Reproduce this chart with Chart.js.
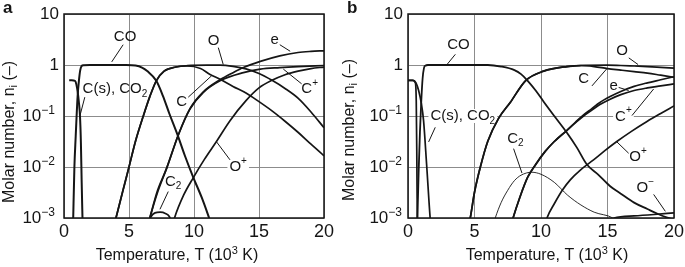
<!DOCTYPE html>
<html><head><meta charset="utf-8">
<script src="https://cdn.jsdelivr.net/npm/chart.js@4/dist/chart.umd.min.js"></script>
<style>
html,body{margin:0;padding:0;background:#fff;}
#wa{position:absolute;left:0;top:0;width:340px;height:267px;}
#wb{position:absolute;left:340px;top:0;width:345px;height:267px;}
</style></head>
<body>
<div id="wa"><canvas id="ca" width="340" height="267"></canvas></div>
<div id="wb"><canvas id="cb" width="345" height="267"></canvas></div>
<script>
// ---------- axes ----------
const xTicks = [0, 5, 10, 15, 20];
const yTicks = [0.001, 0.01, 0.1, 1, 10];
const yTickBase = ['10', '10', '10', '1', '10'];
const yTickExp  = ['\u22123', '\u22122', '\u22121', '', ''];

// ---------- panel a (T in 10^3 K, molar number) ----------
const aCO_T = [0.7, 0.8, 0.9, 0.97, 1.05, 1.15, 1.25, 1.35, 1.5, 2, 3, 4, 4.8, 5.5, 6.0, 6.4, 7.1, 7.6, 8.1, 8.7, 9.3, 9.95, 10.6, 11.3];
const aCO_n = [0.0008, 0.01, 0.04, 0.1, 0.25, 0.5, 0.794, 0.955, 0.99, 1, 1, 1, 1, 0.977, 0.891, 0.759, 0.49, 0.251, 0.112, 0.045, 0.0166, 0.0062, 0.0025, 0.0008];
const aCsCO2_T = [0.4, 0.6, 0.85, 0.95, 1.05, 1.15, 1.23, 1.3, 1.36, 1.43];
const aCsCO2_n = [0.5, 0.5, 0.49, 0.42, 0.3, 0.18, 0.1, 0.03, 0.005, 0.0008];
const aO_T = [3.9, 4.5, 5.0, 5.5, 6.1, 6.6, 7.1, 7.7, 8.6, 9.5, 11, 12, 13, 14, 15, 16, 17, 18, 19, 20];
const aO_n = [0.0008, 0.0032, 0.01, 0.032, 0.1, 0.24, 0.49, 0.759, 0.912, 0.97, 0.99, 0.99, 0.94, 0.84, 0.68, 0.5, 0.347, 0.224, 0.12, 0.059];
const aC_T = [3.9, 4.5, 5.0, 5.5, 6.1, 6.6, 7.1, 7.7, 8.6, 9.5, 10.5, 11.2, 12, 13, 14, 15, 16, 17, 18, 19, 20];
const aC_n = [0.0008, 0.0032, 0.01, 0.032, 0.1, 0.24, 0.49, 0.759, 0.912, 0.955, 0.851, 0.661, 0.525, 0.38, 0.282, 0.191, 0.126, 0.079, 0.048, 0.028, 0.0166];
const aCp_T = [6.5, 6.6, 7.2, 7.9, 8.8, 9.7, 10.7, 12, 13.8, 15.1, 16.6, 18, 20];
const aCp_n = [0.0008, 0.001, 0.0032, 0.0095, 0.043, 0.138, 0.288, 0.49, 0.708, 0.832, 0.891, 0.933, 0.977];
const ae_T = [6.5, 6.6, 7.2, 7.9, 8.8, 9.7, 10.7, 12, 13, 13.8, 15.1, 16.6, 18, 19, 20];
const ae_n = [0.0008, 0.001, 0.0035, 0.0095, 0.043, 0.141, 0.295, 0.513, 0.708, 0.891, 1.175, 1.51, 1.76, 1.85, 1.9];
const aOp_T = [8.4, 8.5, 9.2, 9.95, 10.8, 11.74, 12.77, 14, 15, 16, 17, 18, 19, 20];
const aOp_n = [0.0008, 0.001, 0.0028, 0.0062, 0.0141, 0.032, 0.081, 0.2, 0.355, 0.501, 0.646, 0.759, 0.851, 0.912];
const aC2_T = [6.5, 6.7, 7.0, 7.4, 7.8, 8.1, 8.3];
const aC2_n = [0.0008, 0.00107, 0.00126, 0.0013, 0.00123, 0.00107, 0.0008];

// ---------- panel b ----------
const bCO_T = [0.7, 0.8, 0.9, 1.0, 1.1, 1.2, 1.3, 1.5, 3, 6, 7, 8, 8.5, 9, 9.6, 10.2, 11, 11.95, 12.7, 13.45, 14.3, 15.2, 16, 17, 18, 18.8, 19.5, 20];
const bCO_n = [0.0008, 0.008, 0.05, 0.2, 0.55, 0.87, 0.97, 1, 1, 1, 0.933, 0.794, 0.661, 0.49, 0.316, 0.191, 0.1, 0.047, 0.024, 0.0112, 0.0071, 0.0042, 0.003, 0.002, 0.0015, 0.0012, 0.00102, 0.00093];
const bCs_T = [0, 0.35, 0.55, 0.62, 0.66, 0.7];
const bCs_n = [0.5, 0.5, 0.45, 0.2, 0.02, 0.0008];
const bCO2_T = [0, 0.4, 0.6, 0.8, 1.0, 1.17, 1.4, 1.68, 1.72];
const bCO2_n = [0.5, 0.5, 0.447, 0.316, 0.178, 0.081, 0.0112, 0.00089, 0.0007];
const bO_T = [4.6, 4.68, 5.0, 5.44, 6.0, 6.8, 7.7, 8.83, 10.2, 11.95, 13, 15, 16, 17, 18, 19, 20];
const bO_n = [0.0008, 0.001, 0.0032, 0.01, 0.032, 0.089, 0.186, 0.49, 0.759, 0.933, 0.977, 0.995, 0.977, 0.955, 0.933, 0.902, 0.871];
const bC_T = [4.6, 4.68, 5.0, 5.44, 6.0, 6.8, 7.7, 8.83, 10.2, 11.95, 13, 14, 15, 16, 17, 18, 19, 20];
const bC_n = [0.0008, 0.001, 0.0032, 0.01, 0.032, 0.089, 0.186, 0.49, 0.759, 0.933, 0.977, 0.933, 0.851, 0.794, 0.741, 0.692, 0.631, 0.575];
const be_T = [7.8, 7.9, 8.4, 9.0, 9.6, 10.3, 11.0, 11.95, 12.6, 13.2, 13.8, 14.4, 15.2, 16, 17, 18, 19, 20];
const be_n = [0.0008, 0.001, 0.0025, 0.0063, 0.0112, 0.02, 0.0316, 0.0525, 0.0759, 0.105, 0.138, 0.182, 0.24, 0.302, 0.38, 0.447, 0.513, 0.589];
const bCp_T = [7.8, 7.9, 8.4, 9.0, 9.6, 10.3, 11.0, 11.95, 12.6, 13.2, 13.8, 14.4, 15.2, 16, 17, 18, 19, 20];
const bCp_n = [0.0008, 0.001, 0.0025, 0.0063, 0.0112, 0.02, 0.0316, 0.0525, 0.0741, 0.1, 0.129, 0.166, 0.214, 0.263, 0.316, 0.355, 0.389, 0.427];
const bOp_T = [10.35, 10.45, 11, 11.6, 12.2, 13, 13.95, 14.8, 15.7, 16.8, 18, 19, 20];
const bOp_n = [0.0008, 0.001, 0.0019, 0.0035, 0.0056, 0.0089, 0.0138, 0.0209, 0.0316, 0.05, 0.079, 0.112, 0.158];
const bC2_T = [6.45, 6.56, 7, 7.5, 8, 8.5, 9.3, 10, 11, 12, 13, 14, 15.4, 15.6];
const bC2_n = [0.0008, 0.001, 0.002, 0.0035, 0.0054, 0.0069, 0.0079, 0.0072, 0.005, 0.0028, 0.0018, 0.0013, 0.001, 0.0009];
const bOm_T = [15.3, 15.5, 17, 18.5, 20];
const bOm_n = [0.0009, 0.001, 0.0011, 0.00117, 0.00126];

// ---------- curve labels (text, anchor x, anchor y, white background) ----------
const aLabelText = ['CO', 'C(s), CO_2', 'O', 'e', 'C', 'C^+', 'O^+', 'C_2'];
const aLabelX    = [4.7, 3.92, 11.5, 16.2, 9.05, 18.9, 13.4, 8.4];
const aLabelY    = [3.6, 0.34, 2.95, 3.16, 0.186, 0.339, 0.01, 0.0052];
const aLabelBg   = [false, false, false, false, false, false, true, false];
const aLeaders   = [[4.55, 2.5, 3.67, 1.15], [1.6, 0.234, 1.23, 0.102], [11.87, 2.19, 12.25, 1.02], [16.6, 2.5, 17.4, 1.86],
                    [9.56, 0.234, 11.36, 0.617], [18.28, 0.427, 16.87, 0.832], [12.77, 0.0138, 11.74, 0.031], [8.02, 0.0033, 7.38, 0.00148]];
const bLabelText = ['CO', 'C(s), CO_2', 'O', 'C', 'e', 'C^+', 'O^+', 'C_2', 'O^\u2212'];
const bLabelX    = [3.8, 4.12, 16.1, 13.2, 15.46, 16.2, 17.3, 8.07, 17.84];
const bLabelY    = [2.5, 0.1, 1.86, 0.525, 0.389, 0.098, 0.0158, 0.036, 0.0039];
const bLabelBg   = [false, true, false, false, false, true, false, false, false];
const bLeaders   = [[3.56, 1.62, 2.93, 1.02], [2.05, 0.06, 1.55, 0.031], [16.6, 1.38, 17.3, 1.02], [13.83, 0.389, 14.96, 0.851],
                    [15.84, 0.363, 16.59, 0.316], [16.84, 0.102, 18.47, 0.339], [16.59, 0.0186, 15.71, 0.031], [7.94, 0.0229, 8.57, 0.0076],
                    [18.47, 0.0029, 19.35, 0.00135]];

const FONT = '"Liberation Sans", Arial, Helvetica, sans-serif';
const INK = '#151515';
const LBL = 15, LBL_S = 10;

function pts(T, n) { return T.map((t, i) => ({x: t, y: n[i]})); }
function ds(T, n, w) {
  return {data: pts(T, n), borderColor: INK, borderWidth: w || 1.7, pointRadius: 0,
          cubicInterpolationMode: 'monotone', fill: false};
}

function parseLabel(s) {
  const m = s.match(/^(.*?)([_^])(.*)$/);
  if (!m) return [{t: s, k: 'n'}];
  return [{t: m[1], k: 'n'}, {t: m[3], k: m[2] === '_' ? 'sub' : 'sup'}];
}
function partsWidth(ctx, parts, big, small) {
  let w = 0;
  parts.forEach(p => { ctx.font = (p.k === 'n' ? big : small) + 'px ' + FONT; w += ctx.measureText(p.t).width; });
  return w;
}
function drawParts(ctx, parts, x, y, big, small, subOff, supOff) {
  let cx = x;
  parts.forEach(p => {
    ctx.font = (p.k === 'n' ? big : small) + 'px ' + FONT;
    const dy = p.k === 'sub' ? subOff : (p.k === 'sup' ? supOff : 0);
    ctx.fillText(p.t, cx, y + dy);
    cx += ctx.measureText(p.t).width;
  });
}

const deco = {
  id: 'deco',
  beforeDatasetsDraw(chart) {
    const o = chart.options.plugins.deco, ctx = chart.ctx, xs = chart.scales.x, ys = chart.scales.y;
    ctx.save();
    o.text.forEach((s, i) => {
      if (!o.bg[i]) return;
      const parts = parseLabel(s);
      const w = partsWidth(ctx, parts, LBL, LBL_S);
      const px = xs.getPixelForValue(o.lx[i]), py = ys.getPixelForValue(o.ly[i]);
      ctx.fillStyle = '#fff';
      ctx.fillRect(px - w / 2 - 2, py - 7, w + 4, 14);
    });
    ctx.restore();
  },
  afterDraw(chart) {
    const o = chart.options.plugins.deco, ctx = chart.ctx, ca = chart.chartArea;
    const xs = chart.scales.x, ys = chart.scales.y;
    ctx.save();
    // frame
    ctx.strokeStyle = INK; ctx.lineWidth = 1.5;
    ctx.strokeRect(ca.left, ca.top, ca.right - ca.left, ca.bottom - ca.top);
    ctx.fillStyle = INK;
    // x tick labels
    ctx.font = '18px ' + FONT; ctx.textAlign = 'center'; ctx.textBaseline = 'alphabetic';
    xTicks.forEach(v => ctx.fillText(String(v), xs.getPixelForValue(v), ca.bottom + 19));
    // y tick labels
    ctx.textAlign = 'left'; ctx.textBaseline = 'middle';
    yTicks.forEach((v, i) => {
      const parts = [{t: yTickBase[i], k: 'n'}];
      if (yTickExp[i]) parts.push({t: yTickExp[i], k: 'sup'});
      const w = partsWidth(ctx, parts, 17, 12);
      const right = ca.left - (yTickExp[i] ? o.expGap : 5);
      drawParts(ctx, parts, right - w, ys.getPixelForValue(v), 17, 12, 0, -5);
    });
    // axis titles
    ctx.textBaseline = 'alphabetic';
    const xt = [{t: 'Temperature, T (10', k: 'n'}, {t: '3', k: 'sup'}, {t: ' K)', k: 'n'}];
    const xw = partsWidth(ctx, xt, 16, 11);
    drawParts(ctx, xt, o.xTitleX - xw / 2, 260, 16, 11, 0, -6);
    ctx.save();
    ctx.translate(o.yTitleX, o.yTitleY); ctx.rotate(-Math.PI / 2);
    ctx.textBaseline = 'middle';
    const yt = [{t: 'Molar number, n', k: 'n'}, {t: 'i', k: 'sub'}, {t: ' (\u2013)', k: 'n'}];
    const yw = partsWidth(ctx, yt, 16, 11);
    drawParts(ctx, yt, -yw / 2, 0, 16, 11, 4, 0);
    ctx.restore();
    // panel letter
    ctx.font = 'bold 17px ' + FONT; ctx.textAlign = 'left'; ctx.textBaseline = 'alphabetic';
    ctx.fillText(o.letter, o.letterX, 13);
    // curve labels
    ctx.textBaseline = 'middle';
    o.text.forEach((s, i) => {
      const parts = parseLabel(s);
      const w = partsWidth(ctx, parts, LBL, LBL_S);
      const px = xs.getPixelForValue(o.lx[i]), py = ys.getPixelForValue(o.ly[i]);
      drawParts(ctx, parts, px - w / 2, py, LBL, LBL_S, 5, -6);
    });
    // leader lines
    ctx.strokeStyle = INK; ctx.lineWidth = 1;
    o.leaders.forEach(l => {
      ctx.beginPath();
      ctx.moveTo(xs.getPixelForValue(l[0]), ys.getPixelForValue(l[1]));
      ctx.lineTo(xs.getPixelForValue(l[2]), ys.getPixelForValue(l[3]));
      ctx.stroke();
    });
    ctx.restore();
  }
};

function makeChart(id, datasets, yAxisW, padRight, deco) {
  return new Chart(document.getElementById(id), {
    type: 'line',
    data: {datasets},
    plugins: [deco],
    options: {
      responsive: false, animation: false, devicePixelRatio: 1,
      layout: {padding: {top: 14, right: padRight, left: 0, bottom: 0}},
      plugins: {legend: {display: false}, tooltip: {enabled: false}, deco: deco.cfg},
      scales: {
        x: {type: 'linear', min: 0, max: 20,
            ticks: {display: false, stepSize: 5},
            afterBuildTicks: ax => { ax.ticks = xTicks.map(v => ({value: v})); },
            grid: {color: '#8c8c8c', lineWidth: 1, drawTicks: false},
            border: {display: false},
            afterFit: ax => { ax.height = 49; }},
        y: {type: 'logarithmic', min: 0.001, max: 10,
            ticks: {display: false},
            afterBuildTicks: ax => { ax.ticks = yTicks.map(v => ({value: v})); },
            grid: {color: '#8c8c8c', lineWidth: 1, drawTicks: false},
            border: {display: false},
            afterFit: ax => { ax.width = yAxisW; }}
      }
    }
  });
}

const decoA = Object.assign({}, deco);
decoA.cfg = {text: aLabelText, lx: aLabelX, ly: aLabelY, bg: aLabelBg, leaders: aLeaders,
             letter: 'a', letterX: 3, xTitleX: 177, yTitleX: 10, yTitleY: 132, expGap: 9};
const decoB = Object.assign({}, deco);
decoB.cfg = {text: bLabelText, lx: bLabelX, ly: bLabelY, bg: bLabelBg, leaders: bLeaders,
             letter: 'b', letterX: 7, xTitleX: 207, yTitleX: 10, yTitleY: 130, expGap: 6};

makeChart('ca', [
  ds(aCO_T, aCO_n, 2), ds(aCsCO2_T, aCsCO2_n, 2), ds(aO_T, aO_n), ds(aC_T, aC_n),
  ds(aCp_T, aCp_n), ds(ae_T, ae_n), ds(aOp_T, aOp_n), ds(aC2_T, aC2_n)
], 64, 16, decoA);

makeChart('cb', [
  ds(bCO_T, bCO_n, 1.8), ds(bCs_T, bCs_n), ds(bCO2_T, bCO2_n), ds(bO_T, bO_n), ds(bC_T, bC_n),
  ds(be_T, be_n), ds(bCp_T, bCp_n), ds(bOp_T, bOp_n), ds(bC2_T, bC2_n, 0.9), ds(bOm_T, bOm_n)
], 68, 11, decoB);
</script>
</body></html>
